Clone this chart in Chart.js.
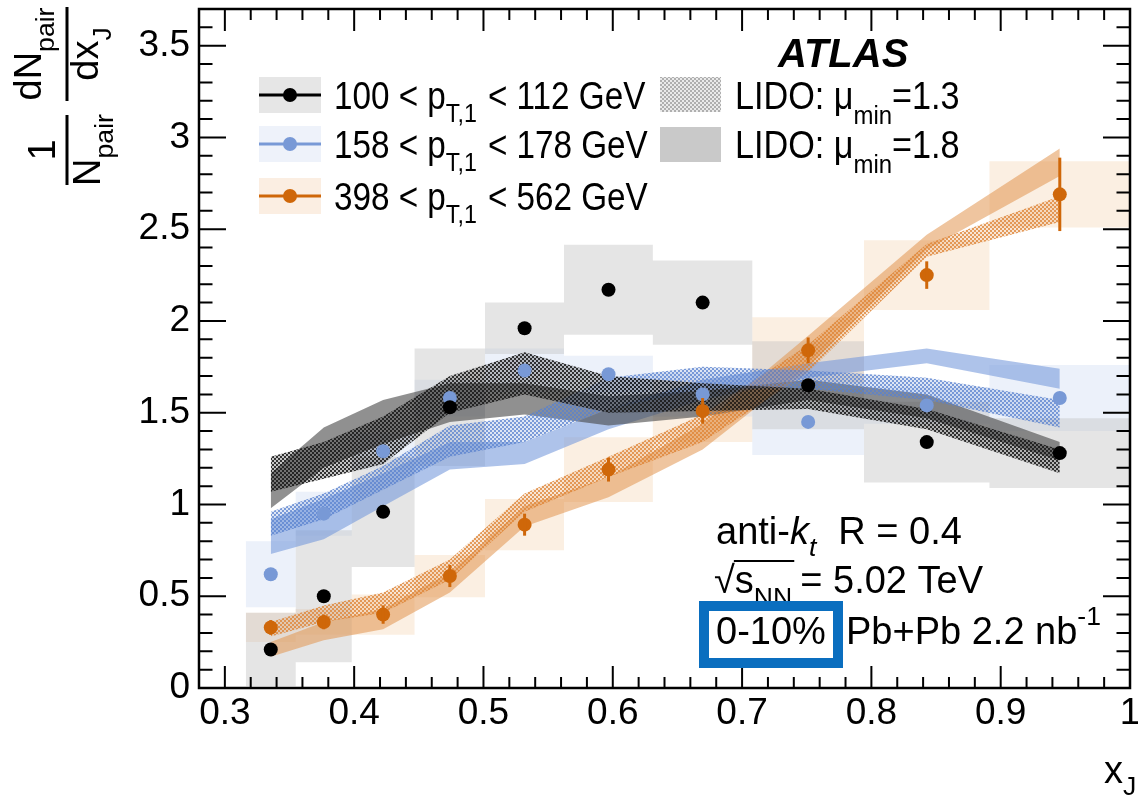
<!DOCTYPE html>
<html>
<head>
<meta charset="utf-8">
<script src="https://cdn.jsdelivr.net/npm/chart.js@4.4.0/dist/chart.umd.min.js"></script>
<style>
  html, body { margin: 0; padding: 0; background: #fff; }
</style>
</head>
<body>
<canvas id="chart" width="1138" height="796"></canvas>
<script>
// x_J binning (log bins) and bin centres
const binEdges = [0.3162, 0.3548, 0.3981, 0.4467, 0.5012, 0.5623, 0.6310, 0.7079, 0.7943, 0.8913, 1.0];
const xJ = [0.3355, 0.3765, 0.4224, 0.4740, 0.5318, 0.5967, 0.6695, 0.7511, 0.8428, 0.9457];

// data: 1/N dN/dx_J, 0-10% Pb+Pb
const pt100 = [0.21, 0.50, 0.96, 1.53, 1.96, 2.17, 2.10, 1.65, 1.34, 1.28];
const pt158 = [0.62, 0.95, 1.29, 1.58, 1.73, 1.71, 1.60, 1.45, 1.54, 1.58];
const pt398 = [0.33, 0.36, 0.40, 0.61, 0.89, 1.19, 1.51, 1.84, 2.25, 2.69];

// systematic (half heights of the boxes)
const sys100 = [0.20, 0.36, 0.30, 0.32, 0.14, 0.245, 0.23, 0.24, 0.22, 0.19];
const sys158 = [0.18, 0.12, 0.10, 0.10, 0.12, 0.10, 0.12, 0.18, 0.10, 0.18];
const sys398 = [0.08, 0.07, 0.11, 0.115, 0.14, 0.176, 0.17, 0.18, 0.19, 0.18];

// statistical errors (only visible for the highest pT bin)
const stat398 = [0.04, 0.04, 0.05, 0.06, 0.06, 0.065, 0.07, 0.07, 0.075, 0.20];

// LIDO bands, lower / upper edges
const lido13_100_lo = [1.07, 1.14, 1.22, 1.50, 1.60, 1.50, 1.51, 1.52, 1.41, 1.17];
const lido13_100_hi = [1.26, 1.34, 1.48, 1.70, 1.83, 1.70, 1.66, 1.63, 1.52, 1.30];
const lido18_100_lo = [0.98, 1.20, 1.33, 1.45, 1.49, 1.43, 1.48, 1.57, 1.47, 1.24];
const lido18_100_hi = [1.17, 1.42, 1.57, 1.66, 1.66, 1.59, 1.62, 1.68, 1.60, 1.34];
const lido13_158_lo = [0.83, 0.92, 1.08, 1.26, 1.34, 1.52, 1.63, 1.63, 1.57, 1.42];
const lido13_158_hi = [0.96, 1.06, 1.21, 1.43, 1.48, 1.69, 1.75, 1.73, 1.69, 1.57];
const lido18_158_lo = [0.73, 0.81, 0.99, 1.19, 1.22, 1.41, 1.57, 1.69, 1.77, 1.63];
const lido18_158_hi = [0.92, 1.03, 1.17, 1.34, 1.34, 1.52, 1.68, 1.77, 1.85, 1.74];
const lido13_398_lo = [0.28, 0.36, 0.41, 0.59, 0.96, 1.15, 1.34, 1.72, 2.35, 2.54];
const lido13_398_hi = [0.36, 0.45, 0.52, 0.70, 1.06, 1.26, 1.49, 1.87, 2.42, 2.68];
const lido18_398_lo = [0.17, 0.26, 0.32, 0.52, 0.88, 1.04, 1.30, 1.75, 2.39, 2.79];
const lido18_398_hi = [0.25, 0.36, 0.43, 0.63, 0.99, 1.15, 1.44, 1.92, 2.47, 2.94];

const xTicks = [0.3, 0.4, 0.5, 0.6, 0.7, 0.8, 0.9, 1];
const yTicks = [0, 0.5, 1, 1.5, 2, 2.5, 3, 3.5];

const FONT = "'Liberation Sans', Arial, Helvetica, sans-serif";

const C_BLACK = '#000000';
const C_BLUE = '#7899d6';
const C_ORANGE = '#cf6709';

function checker(r, g, b, aDot, aBase) {
  const c = document.createElement('canvas');
  c.width = 4; c.height = 4;
  const x = c.getContext('2d');
  x.fillStyle = `rgba(${r},${g},${b},${aBase})`;
  x.fillRect(0, 0, 4, 4);
  x.fillStyle = `rgba(${r},${g},${b},${aDot})`;
  x.fillRect(0, 0, 2, 2);
  x.fillRect(2, 2, 2, 2);
  return x.createPattern(c, 'repeat');
}

const hatch100 = checker(25, 25, 25, 0.85, 0.25);
const hatch158 = checker(90, 130, 205, 0.75, 0.2);
const hatch398 = checker(220, 130, 50, 0.75, 0.2);
const hatchKey = checker(150, 150, 150, 0.7, 0.2);

const NONE = 'rgba(0,0,0,0)';

// one filled rectangle per bin: lower and upper step lines across the bin edges
function boxes(vals, half, color, order) {
  const at = (arr, i) => arr[Math.min(i, arr.length - 1)];
  const lo = binEdges.map((e, i) => ({ x: e, y: at(vals, i) - at(half, i) }));
  const hi = binEdges.map((e, i) => ({ x: e, y: at(vals, i) + at(half, i) }));
  return [
    { data: lo, stepped: 'before', borderColor: NONE, borderWidth: 0, pointRadius: 0, fill: false, order },
    { data: hi, stepped: 'before', borderColor: NONE, borderWidth: 0, pointRadius: 0, fill: '-1', backgroundColor: color, order }
  ];
}

function band(lo, hi, fillStyle, order) {
  return [
    { data: xJ.map((x, i) => ({ x, y: lo[i] })), borderColor: NONE, borderWidth: 0, pointRadius: 0, fill: false, tension: 0, order },
    { data: xJ.map((x, i) => ({ x, y: hi[i] })), borderColor: NONE, borderWidth: 0, pointRadius: 0, fill: '-1', backgroundColor: fillStyle, tension: 0, order }
  ];
}

function points(vals, color) {
  return {
    data: xJ.map((x, i) => ({ x, y: vals[i] })),
    showLine: false, pointRadius: 7, pointHoverRadius: 7, pointBorderWidth: 0,
    pointBackgroundColor: color, borderColor: color, order: 0
  };
}

const datasets = [
  ...boxes(pt100, sys100, 'rgba(190,190,190,0.4)', 5),
  ...boxes(pt158, sys158, 'rgba(180,200,235,0.25)', 5),
  ...boxes(pt398, sys398, 'rgba(240,190,140,0.25)', 5),
  ...band(lido18_100_lo, lido18_100_hi, 'rgba(70,70,70,0.6)', 4),
  ...band(lido18_158_lo, lido18_158_hi, 'rgba(120,155,220,0.6)', 4),
  ...band(lido18_398_lo, lido18_398_hi, 'rgba(225,150,80,0.55)', 4),
  ...band(lido13_100_lo, lido13_100_hi, hatch100, 3),
  ...band(lido13_158_lo, lido13_158_hi, hatch158, 3),
  ...band(lido13_398_lo, lido13_398_hi, hatch398, 3),
  points(pt100, C_BLACK),
  points(pt158, C_BLUE),
  points(pt398, C_ORANGE)
];

// text with sub/superscripts: parts = [{t, s (size factor), dy (baseline shift, em), i (italic), b (bold), gap}]
function richWidth(ctx, parts, size) {
  let w = 0;
  for (const p of parts) {
    ctx.font = `${p.i ? 'italic ' : ''}${p.b ? 'bold ' : ''}${size * (p.s || 1)}px ${FONT}`;
    w += ctx.measureText(p.t).width + (p.gap || 0);
  }
  return w;
}
function rich(ctx, x, y, parts, size, sx) {
  ctx.save();
  ctx.translate(x, y);
  ctx.scale(sx || 1, 1);
  ctx.textAlign = 'left';
  ctx.textBaseline = 'alphabetic';
  ctx.fillStyle = '#000';
  let cx = 0;
  for (const p of parts) {
    ctx.font = `${p.i ? 'italic ' : ''}${p.b ? 'bold ' : ''}${size * (p.s || 1)}px ${FONT}`;
    ctx.fillText(p.t, cx, size * (p.dy || 0));
    cx += ctx.measureText(p.t).width + (p.gap || 0);
  }
  ctx.restore();
  return cx * (sx || 1);
}

const sub = (t, gap) => ({ t, s: 0.7, dy: 0.34, gap: gap || 0 });

const decor = {
  id: 'decor',
  afterDatasetsDraw(chart) {
    const { ctx, scales: { x, y }, chartArea: a } = chart;
    // statistical error bars
    ctx.save();
    ctx.beginPath();
    ctx.rect(a.left, a.top, a.right - a.left, a.bottom - a.top);
    ctx.clip();
    ctx.strokeStyle = C_ORANGE;
    ctx.lineWidth = 3;
    xJ.forEach((v, i) => {
      const px = x.getPixelForValue(v);
      ctx.beginPath();
      ctx.moveTo(px, y.getPixelForValue(pt398[i] - stat398[i]));
      ctx.lineTo(px, y.getPixelForValue(pt398[i] + stat398[i]));
      ctx.stroke();
    });
    ctx.restore();
  },
  afterDraw(chart) {
    const { ctx, scales: { x, y }, chartArea: a } = chart;
    ctx.save();
    // frame
    ctx.strokeStyle = '#000';
    ctx.lineWidth = 2.5;
    ctx.strokeRect(a.left, a.top, a.right - a.left, a.bottom - a.top);
    // inward ticks on all four sides
    ctx.lineWidth = 2;
    ctx.beginPath();
    for (let k = 0; k <= 36; k++) {
      const v = 0.28 + k * 0.02;
      const major = xTicks.some(t => Math.abs(t - v) < 1e-6);
      const len = major ? 22 : 11;
      const px = x.getPixelForValue(v);
      ctx.moveTo(px, a.bottom); ctx.lineTo(px, a.bottom - len);
      ctx.moveTo(px, a.top); ctx.lineTo(px, a.top + len);
    }
    for (let k = 0; k <= 37; k++) {
      const v = k * 0.1;
      const major = yTicks.some(t => Math.abs(t - v) < 1e-6);
      const len = major ? 27 : 13.5;
      const py = y.getPixelForValue(v);
      ctx.moveTo(a.left, py); ctx.lineTo(a.left + len, py);
      ctx.moveTo(a.right, py); ctx.lineTo(a.right - len, py);
    }
    ctx.stroke();

    // legend
    const rows = [
      { y: 95, fill: '#e6e6e6', col: C_BLACK, lo: '100', hi: '112' },
      { y: 144, fill: '#eef2fa', col: C_BLUE, lo: '158', hi: '178' },
      { y: 196, fill: '#fbeee2', col: C_ORANGE, lo: '398', hi: '562' }
    ];
    rows.forEach(r => {
      ctx.fillStyle = r.fill;
      ctx.fillRect(259, r.y - 18, 62, 36);
      ctx.strokeStyle = r.col;
      ctx.lineWidth = 3;
      ctx.beginPath(); ctx.moveTo(259, r.y); ctx.lineTo(321, r.y); ctx.stroke();
      ctx.fillStyle = r.col;
      ctx.beginPath(); ctx.arc(290, r.y, 7, 0, Math.PI * 2); ctx.fill();
      rich(ctx, 334, r.y + 14, [{ t: r.lo + ' < p' }, sub('T,1', 2), { t: ' < ' + r.hi + ' GeV' }], 38, 0.875);
    });
    ctx.fillStyle = hatchKey;
    ctx.fillRect(660, 77, 61, 35);
    ctx.fillStyle = '#c9c9c9';
    ctx.fillRect(660, 127, 61, 35);
    rich(ctx, 735, 109, [{ t: 'LIDO: μ' }, { t: 'min', s: 0.7, dy: 0.4 }, { t: '=1.3' }], 38, 0.9);
    rich(ctx, 735, 158, [{ t: 'LIDO: μ' }, { t: 'min', s: 0.7, dy: 0.4 }, { t: '=1.8' }], 38, 0.9);

    // experiment label
    rich(ctx, 778, 67, [{ t: 'ATLAS', i: true, b: true }], 40, 1);

    // jet / collision info
    rich(ctx, 716, 544, [{ t: 'anti-' }, { t: 'k', i: true }, { t: 't', i: true, s: 0.7, dy: 0.32, gap: 22 }, { t: 'R = 0.4' }], 38, 1);
    const w1 = rich(ctx, 714, 593, [{ t: '√' }], 38, 1);
    const w2 = rich(ctx, 714 + w1, 593, [{ t: 's' }, { t: 'NN', s: 0.7, dy: 0.34 }], 38, 1);
    ctx.strokeStyle = '#000';
    ctx.lineWidth = 2;
    ctx.beginPath(); ctx.moveTo(714 + w1 - 1, 561); ctx.lineTo(714 + w1 + w2 + 2, 561); ctx.stroke();
    rich(ctx, 714 + w1 + w2 + 8, 593, [{ t: '= 5.02 TeV' }], 38, 1);
    rich(ctx, 716, 644, [{ t: '0-10%' }], 38, 1);
    rich(ctx, 846, 644, [{ t: 'Pb+Pb 2.2 nb' }, { t: '-1', s: 0.7, dy: -0.5 }], 38, 1);
    ctx.strokeStyle = '#0a6ebf';
    ctx.lineWidth = 10;
    ctx.strokeRect(704, 606, 134, 57);

    // axis titles
    rich(ctx, 1104, 783, [{ t: 'x' }, { t: 'J', s: 0.7, dy: 0.32 }], 38, 1);

    const frac = (cy, half, num, den, numBase, denBase) => {
      ctx.save();
      ctx.translate(0, cy);
      ctx.rotate(-Math.PI / 2);
      const wn = richWidth(ctx, num, 38);
      const wd = richWidth(ctx, den, 38);
      rich(ctx, -wn / 2, numBase, num, 38, 1);
      rich(ctx, -wd / 2, denBase, den, 38, 1);
      ctx.strokeStyle = '#000';
      ctx.lineWidth = 3;
      ctx.beginPath(); ctx.moveTo(-half, 67); ctx.lineTo(half, 67); ctx.stroke();
      ctx.restore();
    };
    frac(54, 47, [{ t: 'dN' }, sub('pair')], [{ t: 'dx' }, sub('J')], 41, 98);
    frac(150, 35, [{ t: '1' }], [{ t: 'N' }, sub('pair')], 55, 100);
    ctx.restore();
  }
};

new Chart(document.getElementById('chart'), {
  type: 'line',
  data: { datasets },
  options: {
    responsive: false,
    animation: false,
    events: [],
    layout: { padding: { top: 9, right: 8, left: 0, bottom: 0 } },
    plugins: { legend: { display: false }, tooltip: { enabled: false } },
    scales: {
      x: {
        type: 'linear', min: 0.28, max: 1.0,
        grid: { display: false, drawTicks: false },
        border: { display: false },
        afterBuildTicks: s => { s.ticks = xTicks.map(v => ({ value: v })); },
        afterFit: s => { s.height = 108; s.paddingLeft = 0; s.paddingRight = 0; },
        ticks: { color: '#000', padding: 4, maxRotation: 0, autoSkip: false, font: { family: FONT, size: 37 }, callback: v => String(v) }
      },
      y: {
        type: 'linear', min: 0, max: 3.7,
        grid: { display: false, drawTicks: false },
        border: { display: false },
        afterBuildTicks: s => { s.ticks = yTicks.map(v => ({ value: v })); },
        afterFit: s => { s.width = 199; s.paddingTop = 0; s.paddingBottom = 0; },
        ticks: { color: '#000', padding: 9, autoSkip: false, font: { family: FONT, size: 37 }, callback: v => String(v) }
      }
    }
  },
  plugins: [decor]
});
</script>
</body>
</html>
